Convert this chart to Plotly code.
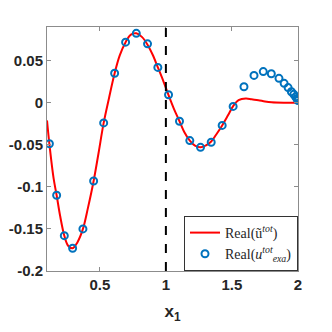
import plotly.graph_objects as go

# courbe approchée Real(u~tot)
x_curve = [0.1, 0.118, 0.15, 0.173, 0.2, 0.231, 0.26, 0.294, 0.33, 0.372, 0.41, 0.453,
           0.49, 0.529, 0.57, 0.612, 0.65, 0.695, 0.735, 0.776, 0.82, 0.861, 0.9, 0.939,
           0.98, 1.02, 1.06, 1.103, 1.14, 1.181, 1.22, 1.262, 1.30, 1.343, 1.38, 1.426,
           1.47, 1.509, 1.55, 1.605, 1.65, 1.7, 1.75, 1.8, 1.9, 2.0]
y_curve = [-0.021, -0.049, -0.090, -0.110, -0.135, -0.158, -0.170, -0.173, -0.166, -0.150,
           -0.125, -0.093, -0.060, -0.024, 0.006, 0.035, 0.056, 0.072, 0.081, 0.0825, 0.078,
           0.069, 0.057, 0.042, 0.026, 0.009, -0.007, -0.022, -0.035, -0.045, -0.051, -0.053,
           -0.051, -0.046, -0.038, -0.027, -0.015, -0.004, 0.003, 0.005, 0.004, 0.003,
           0.0015, 0.0005, 0.0, 0.0]

# solution exacte Real(u_exa^tot)
x_exa = [0.118, 0.173, 0.231, 0.294, 0.372, 0.453, 0.529, 0.612, 0.695, 0.776, 0.861, 0.939,
         1.020, 1.103, 1.181, 1.262, 1.343, 1.426, 1.509, 1.591, 1.667, 1.737, 1.798, 1.856,
         1.895, 1.925, 1.95, 1.968, 1.982, 1.992, 1.998, 2.0]
y_exa = [-0.0488, -0.110, -0.158, -0.173, -0.150, -0.093, -0.024, 0.035, 0.072, 0.0825, 0.070,
         0.042, 0.0095, -0.022, -0.045, -0.053, -0.047, -0.027, -0.0044, 0.019, 0.0325, 0.037,
         0.0345, 0.029, 0.023, 0.018, 0.013, 0.010, 0.007, 0.005, 0.0035, 0.0025]

x_ticks = [0.5, 1, 1.5, 2]
y_ticks = [-0.2, -0.15, -0.1, -0.05, 0, 0.05]
y_labels = ["-0.2", "-0.15", "-0.1", "-0.05", "0", "0.05"]

fig = go.Figure()

fig.add_trace(go.Scatter(
    x=x_curve, y=y_curve, mode="lines", line_shape="spline",
    line=dict(color="#ff0000", width=2),
    name="Real(ũ<sup><i>tot</i></sup>)",
))
fig.add_trace(go.Scatter(
    x=x_exa, y=y_exa, mode="markers",
    marker=dict(symbol="circle-open", size=7, color="#0072BD", line=dict(width=2, color="#0072BD")),
    name="Real(<i>u</i><sup><i>tot</i></sup><sub><i>exa</i></sub>)",
))

# interface x1 = 1
fig.add_vline(x=1, line_dash="dash", line_width=2, line_color="black")

axis_common = dict(
    showgrid=False, zeroline=False, showline=True, linecolor="#8c8c8c", linewidth=1,
    mirror="ticks", ticks="inside", ticklen=4, tickcolor="#8c8c8c", automargin=False,
    tickfont=dict(family="Liberation Sans", size=15, color="#262626", weight="bold"),
)

# la page ajoute ~8 px de marge autour du graphique : on compense ici
fig.update_layout(
    width=324, height=324,
    margin=dict(l=39, r=34, t=19, b=61),
    plot_bgcolor="white", paper_bgcolor="white",
    showlegend=True,
    legend=dict(
        x=1, y=0, xanchor="right", yanchor="bottom",
        bgcolor="white", bordercolor="#333333", borderwidth=1,
        font=dict(family="Liberation Serif", size=14, color="#262626"),
        tracegroupgap=0, itemwidth=30,
    ),
    xaxis=dict(axis_common, range=[0.1, 2], tickvals=x_ticks, ticktext=["0.5", "1", "1.5", "2"],
               title=dict(text="<b>x<sub>1</sub></b>", standoff=13,
                          font=dict(family="Liberation Sans", size=17, color="#262626"))),
    yaxis=dict(axis_common, range=[-0.2, 0.09], tickvals=y_ticks, ticktext=y_labels),
)

fig.write_html("out.html")
